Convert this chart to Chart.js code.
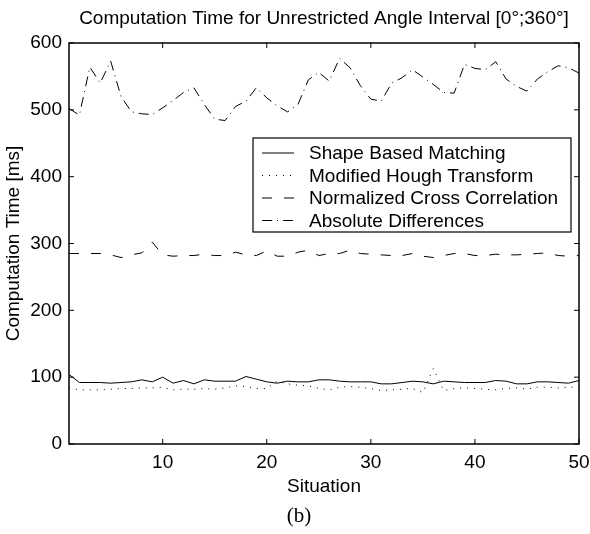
<!DOCTYPE html>
<html>
<head>
<meta charset="utf-8">
<script src="https://cdn.jsdelivr.net/npm/chart.js@4.4.0/dist/chart.umd.min.js"></script>
<style>
  html, body { margin: 0; padding: 0; background: #fff; }
  canvas { display: block; }
</style>
</head>
<body>
<canvas id="chart" width="590" height="534"></canvas>
<script>
const situations = [
  1, 2, 3, 4, 5, 6, 7, 8, 9, 10, 11, 12, 13, 14, 15, 16, 17, 18, 19, 20, 21, 22, 23, 24, 25,
  26, 27, 28, 29, 30, 31, 32, 33, 34, 35, 36, 37, 38, 39, 40, 41, 42, 43, 44, 45, 46, 47, 48, 49, 50,
];

const shapeBased = [
  104, 92, 92, 92, 91, 92, 93, 96, 93, 100, 91, 95, 90, 96, 94, 94, 94, 101, 97, 93, 91, 94, 93, 93, 96,
  96, 94, 93, 93, 93, 90, 90, 92, 94, 93, 90, 94, 93, 92, 92, 92, 95, 94, 90, 90, 93, 93, 92, 91, 95,
];

const houghTransform = [
  84, 81, 81, 81, 82, 83, 83, 84, 84, 85, 81, 82, 82, 83, 82, 84, 87, 86, 83, 83, 94, 90, 88, 87, 83,
  81, 85, 86, 85, 83, 80, 81, 82, 83, 77, 113, 80, 83, 84, 83, 82, 81, 83, 84, 82, 85, 85, 84, 85, 85,
];

const crossCorrelation = [
  285, 285, 285, 285, 283, 279, 283, 286, 302, 283, 281, 282, 282, 284, 282, 282, 287, 283, 282, 289, 281, 281, 287, 290, 282,
  285, 285, 290, 285, 284, 283, 282, 282, 285, 281, 279, 282, 285, 285, 282, 282, 284, 283, 283, 284, 285, 286, 282, 281, 282,
];

const absoluteDiff = [
  502, 492, 564, 540, 573, 520, 497, 494, 493, 503, 514, 526, 533, 508, 486, 484, 505, 513, 533, 518, 506, 497, 508, 545, 556,
  543, 577, 563, 536, 516, 513, 540, 548, 560, 549, 538, 526, 525, 568, 562, 560, 572, 546, 535, 528, 546, 557, 566, 563, 555,
];

const seriesLabels = [
  "Shape Based Matching",
  "Modified Hough Transform",
  "Normalized Cross Correlation",
  "Absolute Differences",
];

const xTicks = [10, 20, 30, 40, 50];
const yTicks = [0, 100, 200, 300, 400, 500, 600];

const SANS = '"Liberation Sans", Arial, Helvetica, sans-serif';
const SERIF = '"Liberation Serif", "Times New Roman", serif';

Chart.defaults.font.family = SANS;
Chart.defaults.font.size = 19;
Chart.defaults.color = "#000";

const toPoints = (values) => situations.map((x, i) => ({ x, y: values[i] }));

const lineStyles = [[], [1, 6], [10, 12], [10, 5, 1, 5]];

// MATLAB-style box with inward ticks on all four sides
const frameTicks = {
  id: "frameTicks",
  afterDraw(chart) {
    const { ctx, chartArea: a, scales } = chart;
    const len = 5;
    ctx.save();
    ctx.strokeStyle = "#000";
    ctx.lineWidth = 1;
    ctx.beginPath();
    scales.x.ticks.forEach(({ value }) => {
      const px = scales.x.getPixelForValue(value);
      ctx.moveTo(px, a.bottom);
      ctx.lineTo(px, a.bottom - len);
      ctx.moveTo(px, a.top);
      ctx.lineTo(px, a.top + len);
    });
    scales.y.ticks.forEach(({ value }) => {
      const py = scales.y.getPixelForValue(value);
      ctx.moveTo(a.left, py);
      ctx.lineTo(a.left + len, py);
      ctx.moveTo(a.right, py);
      ctx.lineTo(a.right - len, py);
    });
    ctx.stroke();
    ctx.lineWidth = 1.5;
    ctx.strokeRect(a.left, a.top, a.right - a.left, a.bottom - a.top);
    ctx.restore();
  },
};

const legendBox = {
  id: "legendBox",
  afterDraw(chart, args, opts) {
    const { ctx } = chart;
    const { x, y, width, height, rowTop, rowGap, lineFrom, lineTo, textX } = opts;
    ctx.save();
    ctx.fillStyle = "#fff";
    ctx.fillRect(x, y, width, height);
    ctx.strokeStyle = "#000";
    ctx.lineWidth = 1.2;
    ctx.strokeRect(x, y, width, height);
    ctx.font = `19px ${SANS}`;
    ctx.textBaseline = "middle";
    ctx.fillStyle = "#000";
    chart.data.datasets.forEach((ds, i) => {
      const rowY = rowTop + i * rowGap;
      ctx.setLineDash(ds.borderDash);
      ctx.lineWidth = 1;
      ctx.beginPath();
      ctx.moveTo(lineFrom, rowY);
      ctx.lineTo(lineTo, rowY);
      ctx.stroke();
      ctx.setLineDash([]);
      ctx.fillText(ds.label, textX, rowY + 1);
    });
    ctx.restore();
  },
};

const captions = {
  id: "captions",
  afterDraw(chart, args, opts) {
    const { ctx, chartArea: a } = chart;
    ctx.save();
    ctx.fillStyle = "#000";
    ctx.textAlign = "center";
    ctx.textBaseline = "middle";
    ctx.font = `19px ${SANS}`;
    ctx.fillText(opts.title, (a.left + a.right) / 2, opts.titleY);
    ctx.font = `21px ${SERIF}`;
    ctx.fillText(opts.caption, opts.captionX, opts.captionY);
    ctx.restore();
  },
};

const datasets = [shapeBased, houghTransform, crossCorrelation, absoluteDiff].map(
  (values, i) => ({
    label: seriesLabels[i],
    data: toPoints(values),
    borderColor: "#000",
    borderWidth: 1,
    borderDash: lineStyles[i],
    pointRadius: 0,
    tension: 0,
    fill: false,
  })
);

new Chart(document.getElementById("chart"), {
  type: "line",
  data: { datasets },
  plugins: [frameTicks, legendBox, captions],
  options: {
    responsive: false,
    animation: false,
    devicePixelRatio: 1,
    layout: {
      padding: { top: 43, right: 11, bottom: 30, left: 0 },
    },
    plugins: {
      legend: { display: false },
      tooltip: { enabled: false },
      legendBox: {
        x: 253,
        y: 138,
        width: 318,
        height: 94,
        rowTop: 153,
        rowGap: 22.5,
        lineFrom: 262,
        lineTo: 294,
        textX: 309,
      },
      captions: {
        title: "Computation Time for Unrestricted Angle Interval [0°;360°]",
        titleY: 19,
        caption: "(b)",
        captionX: 299,
        captionY: 516,
      },
    },
    scales: {
      x: {
        type: "linear",
        min: 1,
        max: 50,
        afterBuildTicks: (axis) => {
          axis.ticks = xTicks.map((value) => ({ value }));
        },
        afterFit: (axis) => {
          axis.height = 60;
          axis.paddingLeft = 0;
          axis.paddingRight = 0;
        },
        grid: { display: false, drawTicks: false },
        border: { display: false },
        ticks: { padding: 7, maxRotation: 0, autoSkip: false },
        title: {
          display: true,
          text: "Situation",
          padding: { top: 0, bottom: 5.6 },
        },
      },
      y: {
        min: 0,
        max: 600,
        afterBuildTicks: (axis) => {
          axis.ticks = yTicks.map((value) => ({ value }));
        },
        afterFit: (axis) => {
          axis.width = 69;
        },
        grid: { display: false, drawTicks: false },
        border: { display: false },
        ticks: { padding: 7 },
        title: {
          display: true,
          text: "Computation Time [ms]",
          padding: { top: 2.6, bottom: 0 },
        },
      },
    },
  },
});
</script>
</body>
</html>
